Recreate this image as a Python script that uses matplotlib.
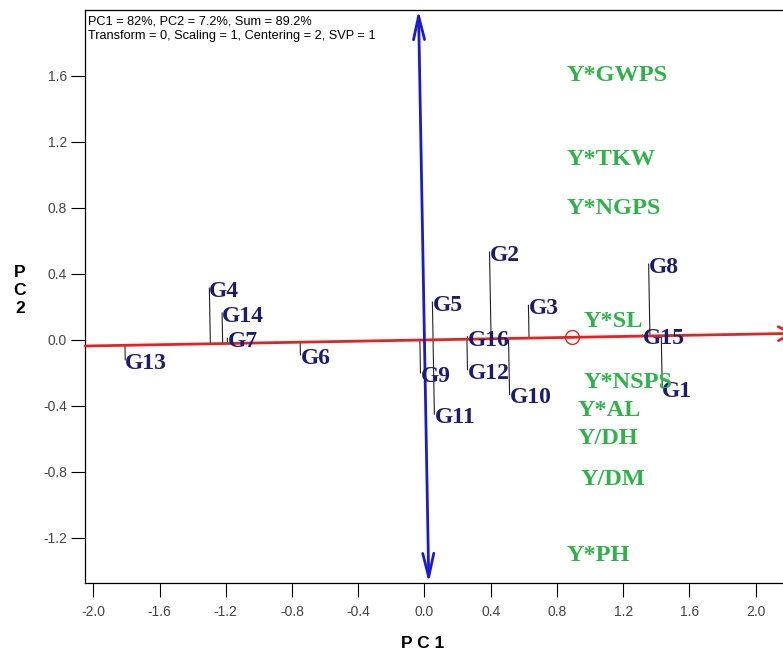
import numpy as np
import matplotlib
matplotlib.use("Agg")
from matplotlib import pyplot as plt

# genotype scores (PC1, PC2)
genotypes = ['G1', 'G2', 'G3', 'G4', 'G5', 'G6', 'G7', 'G8',
             'G9', 'G10', 'G11', 'G12', 'G13', 'G14', 'G15', 'G16']
g_pc1 = [1.436, 0.393, 0.628, -1.299, 0.048, -0.749, -1.19, 1.354,
         -0.024, 0.514, 0.06, 0.26, -1.807, -1.222, 1.317, 0.26]
g_pc2 = [-0.29, 0.533, 0.21, 0.315, 0.23, -0.09, 0.01, 0.46,
         -0.2, -0.33, -0.45, -0.18, -0.12, 0.164, 0.03, 0.02]

# trait (environment) label positions
traits = ['Y*GWPS', 'Y*TKW', 'Y*NGPS', 'Y*SL', 'Y*NSPS',
          'Y*AL', 'Y/DH', 'Y/DM', 'Y*PH']
t_pc1 = [0.858, 0.858, 0.858, 0.961, 0.961, 0.924, 0.924, 0.943, 0.858]
t_pc2 = [1.6, 1.091, 0.794, 0.109, -0.255, -0.43, -0.60, -0.848, -1.309]

# average environment
avg_env = (0.894, 0.016)

x_ticks = [-2.0, -1.6, -1.2, -0.8, -0.4, 0.0, 0.4, 0.8, 1.2, 1.6, 2.0]
y_ticks = [-1.2, -0.8, -0.4, 0.0, 0.4, 0.8, 1.2, 1.6]

header = ["PC1 = 82%, PC2 = 7.2%, Sum = 89.2%",
          "Transform = 0, Scaling = 1, Centering = 2, SVP = 1"]

navy = '#1c1c6e'
green = '#30b24a'
red = '#e02424'
blue = '#1a1ad0'

W, H = 783, 651
fig = plt.figure(figsize=(W / 100, H / 100), dpi=100)
ax = fig.add_axes([85 / W, (H - 583) / H, 712 / W, 573 / H])
xlo, xhi = -2.05, 2.25
ylo, yhi = -1.473, 2.0
ax.set_xlim(xlo, xhi)
ax.set_ylim(ylo, yhi)

# ATC abscissa through origin and average environment
d = np.array(avg_env) / np.hypot(*avg_env)
m = d[1] / d[0]
ax.annotate('', xy=(2.24, 2.24 * m), xytext=(xlo, xlo * m),
            arrowprops=dict(arrowstyle='->, head_length=0.5, head_width=0.25',
                            color=red, lw=2, mutation_scale=20,
                            shrinkA=0, shrinkB=0),
            annotation_clip=False)
# ATC ordinate, perpendicular
ax.annotate('', xy=(-m * yhi, yhi), xytext=(-m * ylo, ylo),
            arrowprops=dict(arrowstyle='<->, head_length=0.85, head_width=0.2',
                            color=blue, lw=2, mutation_scale=20,
                            shrinkA=0, shrinkB=0))
ax.plot([avg_env[0]], [avg_env[1]], 'o', mfc='none', mec=red, ms=10, mew=1)

# projections of genotypes on the ATC abscissa
for name, x, y in zip(genotypes, g_pc1, g_pc2):
    t = x * d[0] + y * d[1]
    fx, fy = t * d[0], t * d[1]
    ax.plot([fx, x], [fy, y], color='#222222', lw=0.8)
    ax.annotate(name, (x, y), xytext=(0, -2.5), textcoords='offset points',
                ha='left', va='center', fontsize=17, fontweight='bold',
                family='Liberation Serif', color=navy)

for name, x, y in zip(traits, t_pc1, t_pc2):
    ax.text(x, y, name, ha='left', va='center', fontsize=17.5,
            fontweight='bold', family='Liberation Serif', color=green)

ax.set_xticks(x_ticks)
ax.set_yticks(y_ticks)
ax.set_xticklabels(['%.1f' % v for v in x_ticks])
ax.set_yticklabels(['%.1f' % v for v in y_ticks])
ax.tick_params(axis='x', direction='out', length=10, pad=6, width=0.8,
               labelsize=10, labelcolor='#444444')
ax.tick_params(axis='y', direction='out', length=10, pad=3, width=0.8,
               labelsize=10, labelcolor='#444444')
for lab in ax.get_xticklabels() + ax.get_yticklabels():
    lab.set_family('Liberation Sans')
for sp in ax.spines.values():
    sp.set_linewidth(0.9)

fig.text(88 / W, 1 - 21 / H, header[0], ha='left', va='center',
         fontsize=9.2, family='Liberation Sans')
fig.text(88 / W, 1 - 36 / H, header[1], ha='left', va='center',
         fontsize=9.2, family='Liberation Sans')

fig.text(423 / W, 1 - 644 / H, 'P C 1', ha='center', va='center',
         fontsize=12.5, fontweight='bold', family='Liberation Sans')
fig.text(20 / W, 1 - 291 / H, 'P\nC\n2', ha='center', va='center',
         fontsize=12.5, fontweight='bold', family='Liberation Sans',
         linespacing=1.25)

fig.savefig('out.png', dpi=100)
